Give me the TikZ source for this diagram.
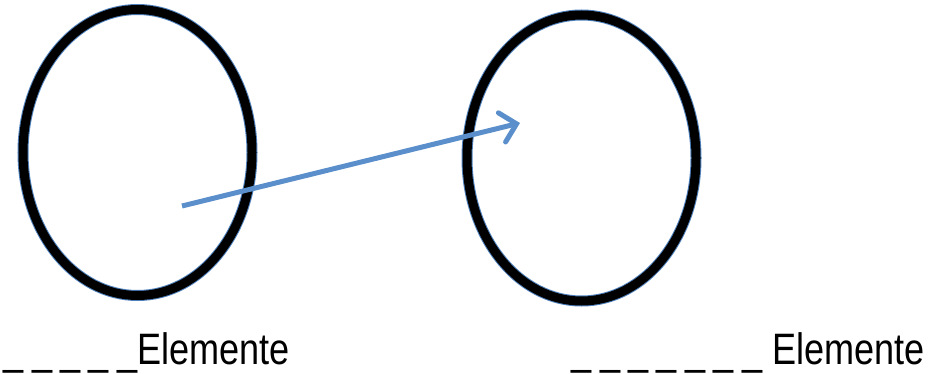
\documentclass[tikz,border=0pt]{standalone}
\usepackage{fontspec}
\setmainfont{Liberation Sans}[FakeStretch=0.82]
\usetikzlibrary{arrows.meta,shapes.geometric}
\definecolor{setblue}{HTML}{4F81BD}
\definecolor{arrowblue}{HTML}{5B8FCB}
\newcommand\blanks[1]{{\addfontfeatures{LetterSpace=19}#1}}
\tikzset{
    setring/.style={ellipse, draw=setblue, line width=1pt, double=black, double distance=9pt, inner sep=0pt, minimum width=229pt, minimum height=286pt},
    setlabel/.style={inner sep=0pt, font=\fontsize{44pt}{48pt}\selectfont},
    setarrow/.style={-{Straight Barb[length=15pt, width=30pt, line cap=round]}, line width=5pt, arrowblue}
}

\begin{document}
\begin{tikzpicture}[x=1pt, y=-1pt]
        \useasboundingbox (0,0) rectangle (934,374);
        \node[setring] (domain) at (137.5,152.5) {};
        \node[setring] (codomain) at (581.5,158) {};
        \coordinate (from) at (182,206);
        \coordinate (to) at (520,123);
        \node[setlabel, anchor=base east] (domainlabel) at (290,364) {\blanks{\_\_\_\_\_}Elemente};
        \node[setlabel, anchor=base east] (codomainlabel) at (925,364) {\blanks{\_\_\_\_\_\_\_} Elemente};
        \draw[setarrow] (from) -- (to);
    \end{tikzpicture}
\end{document}
